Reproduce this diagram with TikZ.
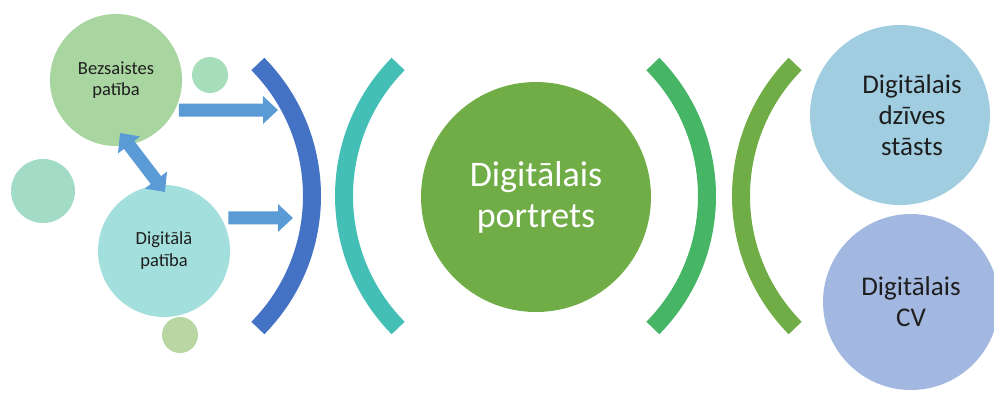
\documentclass[tikz,border=0pt]{standalone}
\usepackage{fontspec}
\setmainfont{Carlito}
\usepackage{xcolor}
\usetikzlibrary{arrows.meta,positioning}

\definecolor{inkgray}{HTML}{1E1E1E}
\definecolor{offgreen}{HTML}{A9D5A0}
\definecolor{mint}{HTML}{A6DDBA}
\definecolor{seafoam}{HTML}{A3DCC6}
\definecolor{sage}{HTML}{B8D7A3}
\definecolor{paleteal}{HTML}{A3DFDC}
\definecolor{flowblue}{HTML}{5B9BD5}
\definecolor{arcblue}{HTML}{4472C4}
\definecolor{arcteal}{HTML}{43BFB6}
\definecolor{leafgreen}{HTML}{70AD47}
\definecolor{arcgreen}{HTML}{46B565}
\definecolor{skyblue}{HTML}{A1CDE1}
\definecolor{lavblue}{HTML}{A3B8E0}

\begin{document}
\begin{tikzpicture}[x=1pt, y=-1pt]
    % Define styles
    \tikzstyle{bubble} = [circle, inner sep=0pt, align=center, text=inkgray]
    \tikzstyle{dot} = [circle, inner sep=0pt, minimum size=36pt]
    \tikzstyle{bracket} = [line width=18pt]
    \tikzstyle{flow} = [draw=flowblue, line width=13pt, -{Triangle[length=15pt,width=27pt]}]
    \tikzstyle{twoway} = [draw=flowblue, line width=13pt, {Triangle[length=15pt,width=27pt]}-{Triangle[length=15pt,width=27pt]}]

    \useasboundingbox (0,0) rectangle (994,392);
    \clip (0,0) rectangle (994,392);

    % Place nodes
    \node [bubble, fill=offgreen, minimum size=132pt, font=\fontsize{18.5}{21}\selectfont] (bez) at (116,80) {Bezsaistes\\patība};
    \node [bubble, fill=paleteal, minimum size=132pt, font=\fontsize{18.5}{22}\selectfont] (dig) at (164,251) {Digitālā\\patība};
    \node [dot, fill=mint] (dotA) at (210,75) {};
    \node [dot, fill=seafoam, minimum size=64pt] (dotB) at (43,191) {};
    \node [dot, fill=sage] (dotC) at (180,335) {};

    \node [bubble, fill=leafgreen, text=white, minimum size=230pt, font=\fontsize{36}{41}\selectfont] (portret) at (536,197) {Digitālais\\portrets};

    \node [bubble, fill=skyblue, minimum size=180pt,
        label={[align=center, text=inkgray, xshift=12pt, font=\fontsize{27}{31}\selectfont]center:Digitālais\\dzīves\\stāsts}] (story) at (900,115) {};
    \node [bubble, fill=lavblue, minimum size=176pt, font=\fontsize{27}{31}\selectfont] (cv) at (911,302) {Digitālais\\CV};

    % Brackets
    \draw [bracket, arcblue] (124,196) ++(-44.6:188pt) arc [start angle=-44.6, end angle=44.6, radius=188pt];
    \draw [bracket, arcteal] (532,196) ++(135.4:188pt) arc [start angle=135.4, end angle=224.6, radius=188pt];
    \draw [bracket, arcgreen] (519,196) ++(-44.6:188pt) arc [start angle=-44.6, end angle=44.6, radius=188pt];
    \draw [bracket, leafgreen] (929,196) ++(135.4:188pt) arc [start angle=135.4, end angle=224.6, radius=188pt];

    % Draw edges
    \coordinate (hitA) at (278,110);
    \coordinate (hitB) at (293,218);
    \coordinate (tipA) at (120,133);
    \coordinate (tipB) at (165,192);
    \path [flow] ([xshift=4pt]bez.-27) -- (hitA);
    \path [flow] ([xshift=7pt]dig.30) -- (hitB);
    \path [twoway] (tipA) -- (tipB);
\end{tikzpicture}
\end{document}
